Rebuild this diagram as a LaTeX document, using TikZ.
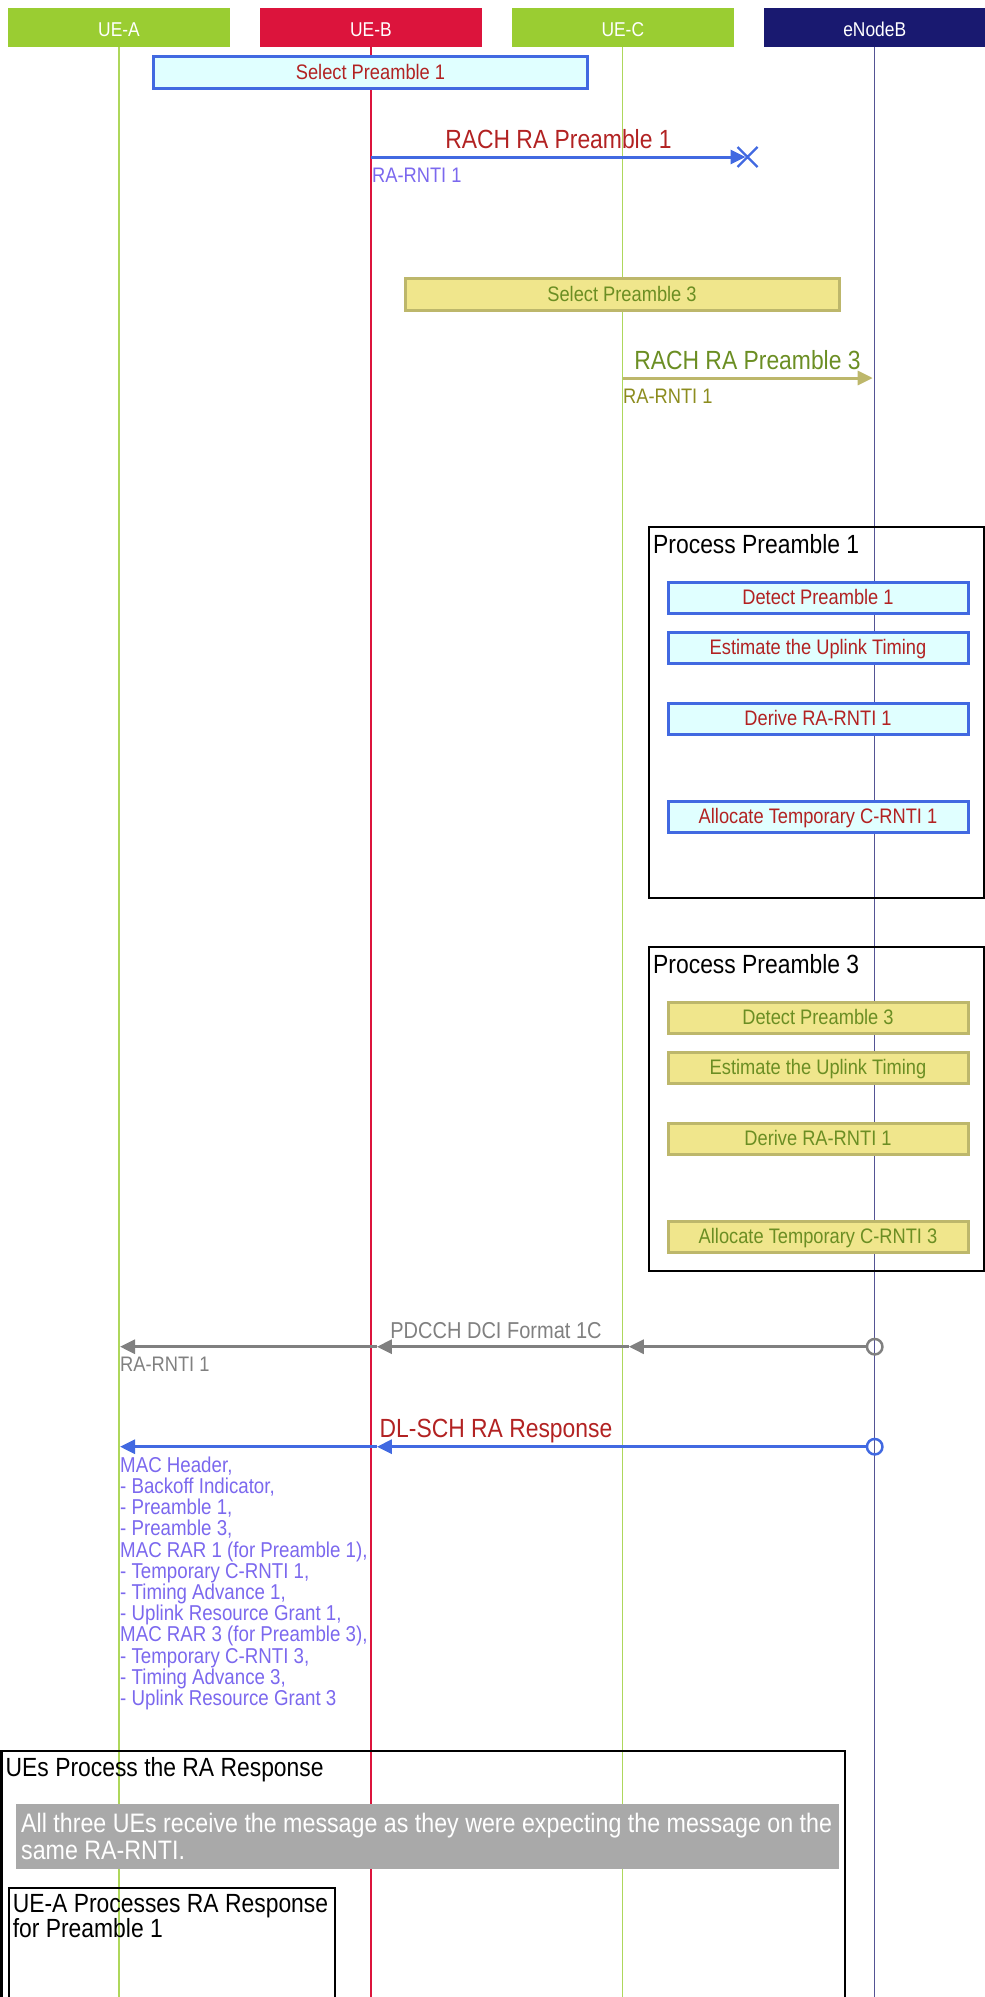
\documentclass[tikz,border=0pt]{standalone}
\usepackage{fontspec}
\setmainfont[FakeStretch=0.87]{Liberation Sans}
\usetikzlibrary{arrows.meta, calc, positioning}
\definecolor{yellowgreen}{HTML}{9ACD32}
\definecolor{crimson}{HTML}{DC143C}
\definecolor{midnight}{HTML}{191970}
\definecolor{royal}{HTML}{4169E1}
\definecolor{firebrick}{HTML}{B22222}
\definecolor{lightcyan}{HTML}{E0FFFF}
\definecolor{khaki}{HTML}{F0E68C}
\definecolor{darkkhaki}{HTML}{BDB76B}
\definecolor{olivedrab}{HTML}{6B8E23}
\definecolor{olivetxt}{HTML}{8C8C1E}
\definecolor{slateblue}{HTML}{7B68EE}
\definecolor{msggray}{HTML}{808080}
\definecolor{notegray}{HTML}{A9A9A9}
\newcommand{\fsHead}{\fontsize{20}{24}\selectfont}
\newcommand{\fsSmall}{\fontsize{21}{25}\selectfont}
\newcommand{\fsMid}{\fontsize{23}{27}\selectfont}
\newcommand{\fsBig}{\fontsize{26.3}{26.6}\selectfont}
\newcommand{\fsNote}{\fontsize{26.7}{26.6}\selectfont}
\newcommand{\fsTitle}{\fontsize{26.3}{25}\selectfont}
\newcommand{\fsList}{\fontsize{21.5}{21.2}\selectfont}
\tikzset{
    node distance = 29.5pt,% gap between the lane heads
    lane/.style = {minimum width=222pt, minimum height=38.5pt, inner sep=0pt, text=white, font=\fsHead, text height=17.3pt, text depth=0pt},% coloured heads
    lifeline/.style = {line width=1.2pt},
    cyanbox/.style = {draw=royal, fill=lightcyan, line width=3pt, text=firebrick, font=\fsSmall, inner sep=0pt, text height=14.5pt, text depth=0pt},
    khakibox/.style = {draw=darkkhaki, fill=khaki, line width=3pt, text=olivedrab, font=\fsSmall, inner sep=0pt, text height=14.5pt, text depth=0pt},
    selbox/.style = {minimum width=434pt, minimum height=32pt},
    stepbox/.style = {minimum width=300pt, minimum height=31pt},
    procframe/.style = {draw=black, line width=2.7pt},
    ftitle/.style = {anchor=base west, inner sep=0pt, font=\fsBig},
    msg/.style = {line width=3pt, -{Triangle[length=15pt,width=14pt]}},% message arrow
    mlabel/.style = {anchor=base, inner sep=0pt},
    sublabel/.style = {anchor=base west, inner sep=0pt, font=\fsSmall},
    srcdot/.style = {circle, draw, line width=2.5pt, minimum size=15.5pt, inner sep=0pt}
}
\begin{document}
\begin{tikzpicture}[x=1pt, y=-1pt]
\useasboundingbox (0,0) rectangle (985,1997);

% lane heads and lifelines
\node[lane, fill=yellowgreen] (uea) at (119,27.35) {UE-A};
\node[lane, fill=crimson, right=of uea] (ueb) {UE-B};
\node[lane, fill=yellowgreen, right=of ueb] (uec) {UE-C};
\node[lane, fill=midnight, right=of uec] (enb) {eNodeB};
\coordinate (bot) at (0,1997);
\draw[lifeline, yellowgreen!80] (uea.south) -- (uea |- bot);
\draw[lifeline, crimson] (ueb.south) -- (ueb |- bot);
\draw[lifeline, yellowgreen!80] (uec.south) -- (uec |- bot);
\draw[lifeline, midnight!75] (enb.south) -- (enb |- bot);

% UE-B picks preamble 1, message is lost
\node[cyanbox, selbox] (sel1) at (370.5,72) {Select Preamble 1};
\coordinate (lost) at (747.5,157);
\draw[msg, royal] (ueb |- lost) -- ([xshift=-2pt]lost);
\draw[royal, line width=2.2pt] ($(lost)+(-10,-10)$) -- ($(lost)+(10,10)$)
                               ($(lost)+(-10,10)$) -- ($(lost)+(10,-10)$);
\node[mlabel, font=\fsBig, text=firebrick] (rach1) at (558.5,148) {RACH RA Preamble 1};
\node[sublabel, text=slateblue] (rnti1) at (372,182) {RA-RNTI 1};

% UE-C picks preamble 3
\node[khakibox, selbox] (sel3) at (622,294) {Select Preamble 3};
\coordinate (r3) at (0,378);
\draw[msg, darkkhaki] (uec |- r3) -- ([xshift=-2pt]enb |- r3);
\node[mlabel, font=\fsBig, text=olivedrab] (rach3) at (747.5,369) {RACH RA Preamble 3};
\node[sublabel, text=olivetxt] (rnti3) at (623,403) {RA-RNTI 1};

% eNodeB handles preamble 1
\draw[procframe] (649,527) rectangle (984,898);
\node[ftitle] (proc1) at (653,553) {Process Preamble 1};
\node[cyanbox, stepbox] (det1) at (818,597.5) {Detect Preamble 1};
\node[cyanbox, stepbox] (est1) at (818,647.5) {Estimate the Uplink Timing};
\node[cyanbox, stepbox] (der1) at (818,718.5) {Derive RA-RNTI 1};
\node[cyanbox, stepbox] (alc1) at (818,816.5) {Allocate Temporary C-RNTI 1};

% eNodeB handles preamble 3
\draw[procframe] (649,947) rectangle (984,1271);
\node[ftitle] (proc3) at (653,973) {Process Preamble 3};
\node[khakibox, stepbox] (det3) at (818,1017.5) {Detect Preamble 3};
\node[khakibox, stepbox] (est3) at (818,1067.5) {Estimate the Uplink Timing};
\node[khakibox, stepbox] (der3) at (818,1138.5) {Derive RA-RNTI 1};
\node[khakibox, stepbox] (alc3) at (818,1236.5) {Allocate Temporary C-RNTI 3};

% PDCCH to all UEs
\coordinate (r4) at (0,1346.7);
\node[srcdot, draw=msggray] (pd) at (enb |- r4) {};
\draw[msg, msggray] (pd) -- ([xshift=6pt]uec |- r4);
\draw[msg, msggray] ([xshift=6pt]uec |- r4) -- ([xshift=6pt]ueb |- r4);
\draw[msg, msggray] ([xshift=6pt]ueb |- r4) -- ([xshift=1pt]uea |- r4);
\node[mlabel, font=\fsMid, text=msggray] (pdcch) at (496,1338) {PDCCH DCI Format 1C};
\node[sublabel, text=msggray] (rnti4) at (120,1371) {RA-RNTI 1};

% RA response
\coordinate (r5) at (0,1446.7);
\node[srcdot, draw=royal] (dl) at (enb |- r5) {};
\draw[msg, royal] (dl) -- ([xshift=6pt]ueb |- r5);
\draw[msg, royal] ([xshift=6pt]ueb |- r5) -- ([xshift=1pt]uea |- r5);
\node[mlabel, font=\fsBig, text=firebrick] (dlsch) at (496,1437.7) {DL-SCH RA Response};
\node[anchor=north west, inner sep=0pt, align=left, font=\fsList, text=slateblue] (rar) at (120,1456.5)
  {MAC Header,\\- Backoff Indicator,\\- Preamble 1,\\- Preamble 3,\\MAC RAR 1 (for Preamble 1),\\- Temporary C-RNTI 1,\\- Timing Advance 1,\\- Uplink Resource Grant 1,\\MAC RAR 3 (for Preamble 3),\\- Temporary C-RNTI 3,\\- Timing Advance 3,\\- Uplink Resource Grant 3};

% UEs side
\draw[procframe] (1.5,1751) rectangle (845,2010);
\node[ftitle] (uesp) at (5.5,1776) {UEs Process the RA Response};
\node[anchor=north west, fill=notegray, minimum height=65pt, inner xsep=5pt, text width=813pt,
      align=flush left, font=\fsNote, text=white] (note) at (16,1804)
  {All three UEs receive the message as they were expecting the message on the\\same RA-RNTI.};
\draw[procframe] (9,1888) rectangle (335,2010);
\node[anchor=north west, inner sep=0pt, align=left, font=\fsTitle] (uepa) at (12.6,1894.5)
  {UE-A Processes RA Response\\for Preamble 1};
\end{tikzpicture}
\end{document}
